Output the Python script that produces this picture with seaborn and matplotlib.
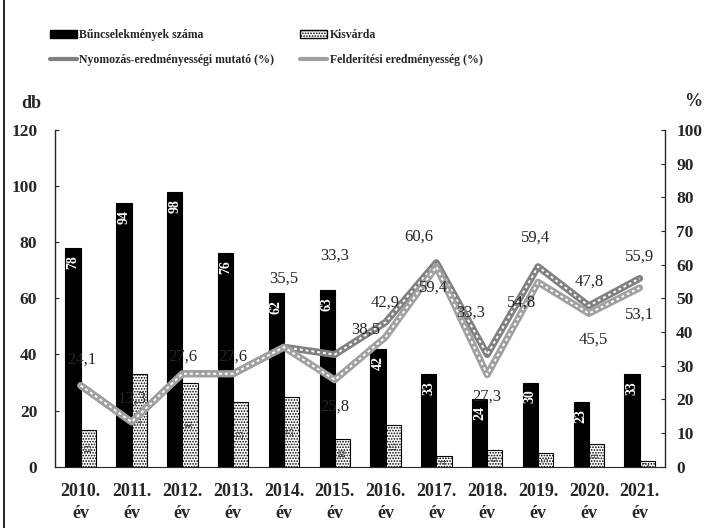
import pandas as pd
import matplotlib.pyplot as plt
import seaborn as sns
from matplotlib.patches import Patch
from matplotlib.lines import Line2D

years = ["2010", "2011", "2012", "2013", "2014", "2015", "2016", "2017", "2018", "2019", "2020", "2021"]
bunc = [78, 94, 98, 76, 62, 63, 42, 33, 24, 30, 23, 33]
kisvarda = [13, 33, 30, 23, 25, 10, 15, 4, 6, 5, 8, 2]
nyomozas = [24.1, 13.3, 27.6, 27.6, 35.5, 33.3, 42.9, 60.6, 33.3, 59.4, 47.8, 55.9]
felderitesi = [24.1, 13.3, 27.6, 27.6, 35.5, 25.8, 38.5, 59.4, 27.3, 54.8, 45.5, 53.1]
xlabels = [y + ".\név" for y in years]

# hand-placed label offsets (points), like the Excel original
felso_eltolas = [(1, 19), (0, 17), (0, 12), (0, 12), (0, 49), (0, 71),
                 (0, 14), (-13, 19), (-12, 30), (-2, 21), (0, 17), (0, 16)]
also_eltolas = [None, None, None, None, None, (0, -19),
                (-14, 5), (-2, -15), (0, -16), (-12, -15), (3, -19), (0, -19)]

sns.set_style("white")
plt.rcParams["font.family"] = ["Liberation Serif", "DejaVu Serif"]
plt.rcParams["hatch.color"] = "#777777"
plt.rcParams["hatch.linewidth"] = 0.8

bars = pd.DataFrame({
    "ev": years * 2,
    "db": bunc + kisvarda,
    "sorozat": ["Bűncselekmények száma"] * 12 + ["Kisvárda"] * 12,
})

fig = plt.figure(figsize=(7.09, 5.28), dpi=100)
ax = fig.add_axes([0.078, 0.116, 0.86, 0.638])

sns.barplot(data=bars, x="ev", y="db", hue="sorozat", palette=["black", "white"],
            width=0.6, edgecolor="black", linewidth=0.8, legend=False, ax=ax)
for p in ax.containers[1]:
    p.set_hatch("......")

for p, v in zip(ax.containers[0], bunc):
    ax.text(p.get_x() + p.get_width() / 2, v - 2.5, str(v), rotation=90, ha="center", va="top",
            color="white", fontsize=10, fontweight="bold")
for p, v in zip(ax.containers[1], kisvarda):
    ax.text(p.get_x() + p.get_width() / 2, v / 2, str(v), rotation=90, ha="center", va="center",
            color="#333333", fontsize=7)

ax.set_ylim(0, 120)
ax.set_yticks(range(0, 121, 20))
ax.set_xlim(-0.5, 11.5)
ax.set_xticks(range(12))
ax.set_xticklabels(xlabels, fontsize=13, fontweight="bold", linespacing=1.35)
ax.set_xlabel("")
ax.set_ylabel("")
ax.tick_params(axis="y", labelsize=12.5, pad=13, length=3, direction="in")
ax.tick_params(axis="x", length=0, pad=12)
for lab in ax.get_yticklabels():
    lab.set_fontweight("bold")
for s in ["top", "right"]:
    ax.spines[s].set_visible(False)
ax.spines["bottom"].set_linestyle((0, (6, 1)))
ax.spines["left"].set_linewidth(1.0)

ax2 = ax.twinx()
xs = list(range(12))
for vals, col in [(nyomozas, "#808080"), (felderitesi, "#a0a0a0")]:
    sns.lineplot(x=xs, y=vals, color=col, linewidth=5, ax=ax2)
    sns.lineplot(x=xs, y=vals, color="white", linewidth=1.4, linestyle=(0, (1.5, 1.5)), ax=ax2)

for i, (a, b) in enumerate(zip(nyomozas, felderitesi)):
    ax2.annotate(f"{a:.1f}".replace(".", ","), (i, a), xytext=felso_eltolas[i], textcoords="offset points",
                 ha="center", va="center", fontsize=12)
    if also_eltolas[i] is not None:
        ax2.annotate(f"{b:.1f}".replace(".", ","), (i, b), xytext=also_eltolas[i], textcoords="offset points",
                     ha="center", va="center", fontsize=12)

ax2.set_ylim(0, 100)
ax2.set_yticks(range(0, 101, 10))
ax2.set_ylabel("")
ax2.tick_params(axis="y", labelsize=12.5, pad=8, length=3, direction="in")
for lab in ax2.get_yticklabels():
    lab.set_fontweight("bold")
for s in ["top", "left", "bottom"]:
    ax2.spines[s].set_visible(False)
ax2.spines["right"].set_linewidth(1.0)

fig.text(0.03, 0.795, "db", fontsize=13, fontweight="bold")
fig.text(0.965, 0.80, "%", fontsize=13, fontweight="bold")

handles = [
    Patch(facecolor="black", edgecolor="black"),
    Line2D([], [], color="#808080", linewidth=3),
    Patch(facecolor="white", edgecolor="black", hatch="......"),
    Line2D([], [], color="#a0a0a0", linewidth=3),
]
labels = ["Bűncselekmények száma", "Nyomozás-eredményességi mutató (%)",
          "Kisvárda", "Felderítési eredményesség (%)"]
fig.legend(handles, labels, loc="upper left", bbox_to_anchor=(0.055, 0.965), ncol=2, frameon=False,
           handlelength=2.3, handletextpad=0.2, columnspacing=2.2, labelspacing=1.1,
           prop={"weight": "bold", "size": 8.5})

fig.add_artist(Line2D([0.005, 0.005], [0.0, 1.0], color="black", linewidth=1.2, transform=fig.transFigure))

fig.savefig("out.png", dpi=100)
